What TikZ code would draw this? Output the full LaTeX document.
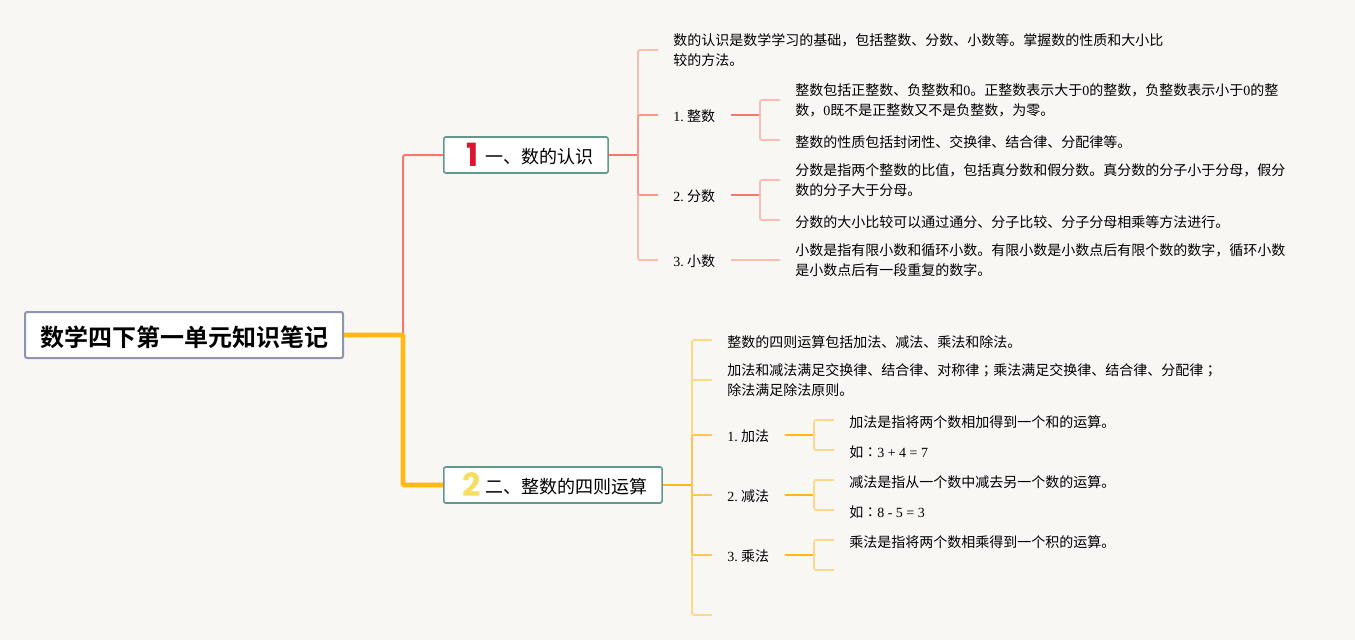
\documentclass[tikz,border=0pt]{standalone}
\usepackage{fontspec}
\setmainfont{Noto Sans CJK SC}[BoldFont={Noto Sans CJK SC Bold}]
\newfontfamily\latfont{Liberation Serif}
\newfontfamily\numfont{Poppins}[BoldFont={Poppins Bold}]
\newfontfamily\tcfont{Noto Sans CJK TC}
\newcommand{\lat}[1]{{\latfont #1}}
\newcommand{\midpunct}[1]{{\tcfont #1}}
\definecolor{pagebg}{HTML}{F9F7F4}
\definecolor{rootedge}{HTML}{8F94AE}
\definecolor{topicedge}{HTML}{5F9A8C}
\definecolor{redmain}{HTML}{F07A6C}
\definecolor{redmid}{HTML}{F39A8E}
\definecolor{redlight}{HTML}{F9BDB3}
\definecolor{yellowmain}{HTML}{FFB814}
\definecolor{yellowmid}{HTML}{FBC654}
\definecolor{yellowlight}{HTML}{FCD98A}
\definecolor{numred}{HTML}{DC1430}
\definecolor{numyellow}{HTML}{F6DE62}
\tikzset{
    rootnode/.style = {
        font=\fontsize{18}{22}\selectfont\bfseries,
        rectangle,
        rounded corners=1.5pt,
        draw=rootedge,
        line width=1.5pt,
        fill=white,
        minimum width=238.5pt,
        minimum height=34.5pt,
        inner sep=0pt,
        execute at begin node={\rule{0pt}{18.8pt}}
    },
    topicnode/.style = {
        font=\fontsize{13.5}{16}\selectfont,
        rectangle,
        rounded corners=1.5pt,
        draw=topicedge,
        line width=1.2pt,
        fill=white,
        anchor=west,
        minimum height=27pt,
        inner xsep=11.25pt,
        inner ysep=0pt,
        execute at begin node={\rule{0pt}{13.4pt}}
    },
    textnode/.style = {
        font=\fontsize{10.5}{15}\selectfont,
        align=left,
        anchor=west,
        inner xsep=11.25pt,
        inner ysep=0pt
    },
    leafnode/.style = {
        textnode,
        execute at begin node={\rule{0pt}{12pt}}
    },
    longnode/.style = {
        textnode,
        execute at begin node={\rule{0pt}{15pt}}
    },
    labelnode/.style = {
        textnode,
        execute at begin node={\rule{0pt}{10.5pt}}
    },
    redlink/.style = {draw=redmain, line width=1.5pt, rounded corners=1.5pt},
    redbranch/.style = {draw=redmid, line width=1.3pt, rounded corners=1.5pt},
    redleaf/.style = {draw=redlight, line width=1.3pt, rounded corners=1.5pt},
    yellowtrunk/.style = {draw=yellowmain, line width=3.6pt, rounded corners=1pt},
    yellowlink/.style = {draw=yellowmain, line width=1.5pt, rounded corners=1.5pt},
    yellowbranch/.style = {draw=yellowmid, line width=1.3pt, rounded corners=1.5pt},
    yellowleaf/.style = {draw=yellowlight, line width=1.3pt, rounded corners=1.5pt}
}
\begin{document}
\begin{tikzpicture}[x=0.75pt,y=-0.75pt]
    \fill [pagebg] (0,0) rectangle (1355,640);
    \useasboundingbox (0,0) rectangle (1355,640);

    \node [rootnode] (root) at (184,335) {数学四下第一单元知识笔记};
    \node [topicnode] (numbers) at (443,155) {\hspace{6pt}\raisebox{-2.75pt}[0pt][0pt]{\numfont\bfseries\fontsize{24}{24}\selectfont\textcolor{numred}{1}}\hspace{4.7pt}一、数的认识};
    \node [topicnode] (arith) at (443,485) {\hspace{3pt}\raisebox{-2.75pt}[0pt][0pt]{\numfont\bfseries\fontsize{24}{24}\selectfont\textcolor{numyellow}{2}}\hspace{3pt}二、整数的四则运算};

    \coordinate (rootfork) at (403,335);
    \coordinate (numbersfork) at (638,155);
    \coordinate (arithfork) at (692,485);

    \node [longnode] (numintro) at (658,50) {数的认识是数学学习的基础，包括整数、分数、小数等。掌握数的性质和大小比\\较的方法。};
    \node [labelnode] (integer) at (658,115) {\lat{1.}\hspace{2.6pt}整数};
    \node [labelnode] (fraction) at (658,195) {\lat{2.}\hspace{2.6pt}分数};
    \node [labelnode] (decimal) at (658,260) {\lat{3.}\hspace{2.6pt}小数};

    \coordinate (integerfork) at (760,115);
    \coordinate (fractionfork) at (760,195);

    \node [longnode] (integerdef) at (780,100) {整数包括正整数、负整数和\lat{0}。正整数表示大于\lat{0}的整数，负整数表示小于\lat{0}的整\\数，\lat{0}既不是正整数又不是负整数，为零。};
    \node [leafnode] (integerprop) at (780,140) {整数的性质包括封闭性、交换律、结合律、分配律等。};
    \node [longnode] (fractiondef) at (780,180) {分数是指两个整数的比值，包括真分数和假分数。真分数的分子小于分母，假分\\数的分子大于分母。};
    \node [leafnode] (fractioncmp) at (780,220) {分数的大小比较可以通过通分、分子比较、分子分母相乘等方法进行。};
    \node [longnode] (decimaldef) at (780,260) {小数是指有限小数和循环小数。有限小数是小数点后有限个数的数字，循环小数\\是小数点后有一段重复的数字。};

    \node [leafnode] (arithintro) at (712,340) {整数的四则运算包括加法、减法、乘法和除法。};
    \node [longnode] (arithlaw) at (712,380) {加法和减法满足交换律、结合律、对称律\midpunct{；}乘法满足交换律、结合律、分配律\midpunct{；}\\除法满足除法原则。};
    \node [labelnode] (add) at (712,435) {\lat{1.}\hspace{2.6pt}加法};
    \node [labelnode] (sub) at (712,495) {\lat{2.}\hspace{2.6pt}减法};
    \node [labelnode] (mul) at (712,555) {\lat{3.}\hspace{2.6pt}乘法};
    \coordinate (arithend) at (712,615);

    \coordinate (addfork) at (814,435);
    \coordinate (subfork) at (814,495);
    \coordinate (mulfork) at (814,555);

    \node [leafnode] (adddef) at (834,420) {加法是指将两个数相加得到一个和的运算。};
    \node [leafnode] (addeg) at (834,450) {如\midpunct{：}\lat{3 + 4 = 7}};
    \node [leafnode] (subdef) at (834,480) {减法是指从一个数中减去另一个数的运算。};
    \node [leafnode] (subeg) at (834,510) {如\midpunct{：}\lat{8 - 5 = 3}};
    \node [leafnode] (muldef) at (834,540) {乘法是指将两个数相乘得到一个积的运算。};
    \coordinate (mulend) at (834,570);

    \draw [redlink] (rootfork) |- (numbers.west);
    \draw [yellowtrunk] (root.east) -- (rootfork) |- (arith.west);

    \draw [redlink] (numbers.east) -- (numbersfork);
    \draw [redleaf] (numbersfork) |- (numintro.west);
    \draw [redleaf] (numbersfork) |- (decimal.west);
    \draw [redbranch] (numbersfork) |- (integer.west);
    \draw [redbranch] (numbersfork) |- (fraction.west);

    \draw [redlink] (integer.east) -- (integerfork);
    \draw [redleaf] (integerfork) |- (integerdef.west);
    \draw [redleaf] (integerfork) |- (integerprop.west);
    \draw [redlink] (fraction.east) -- (fractionfork);
    \draw [redleaf] (fractionfork) |- (fractiondef.west);
    \draw [redleaf] (fractionfork) |- (fractioncmp.west);
    \draw [redleaf] (decimal.east) -- (decimaldef.west);

    \draw [yellowlink] (arith.east) -- (arithfork);
    \draw [yellowleaf] (arithfork) |- (arithintro.west);
    \draw [yellowleaf] (arithfork) |- (arithlaw.west);
    \draw [yellowleaf] (arithfork) |- (arithend);
    \draw [yellowbranch] (arithfork) |- (add.west);
    \draw [yellowbranch] (arithfork) |- (sub.west);
    \draw [yellowbranch] (arithfork) |- (mul.west);

    \draw [yellowlink] (add.east) -- (addfork);
    \draw [yellowleaf] (addfork) |- (adddef.west);
    \draw [yellowleaf] (addfork) |- (addeg.west);
    \draw [yellowlink] (sub.east) -- (subfork);
    \draw [yellowleaf] (subfork) |- (subdef.west);
    \draw [yellowleaf] (subfork) |- (subeg.west);
    \draw [yellowlink] (mul.east) -- (mulfork);
    \draw [yellowleaf] (mulfork) |- (muldef.west);
    \draw [yellowleaf] (mulfork) |- (mulend);
\end{tikzpicture}
\end{document}
